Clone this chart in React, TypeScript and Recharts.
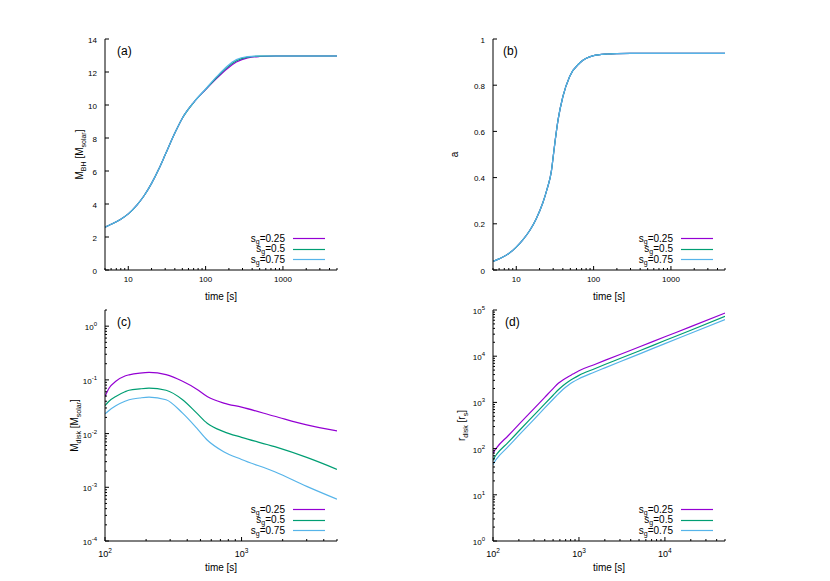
import React from 'react';
import { LineChart, Line, XAxis, YAxis, Legend } from 'recharts';

const FONT = '"Liberation Sans", Arial, Helvetica, sans-serif';

const sgValues = ['0.25', '0.5', '0.75'];
const sgColors = ['#9400d3', '#009e73', '#56b4e9'];

// (a) black hole mass [M_solar]
const bhTime = [5, 6, 8, 10, 13, 16, 20, 25, 30, 40, 50, 70, 100, 140, 190, 250, 350, 500, 800, 1500, 5000];
const bhSg025 = [2.6, 2.77, 3.08, 3.4, 3.95, 4.5, 5.25, 6.15, 6.98, 8.3, 9.2, 10.15, 10.93, 11.63, 12.2, 12.6, 12.86, 12.94, 12.97, 12.97, 12.97];
const bhSg05 = [2.6, 2.77, 3.08, 3.4, 3.95, 4.5, 5.25, 6.15, 6.98, 8.3, 9.2, 10.15, 10.95, 11.68, 12.28, 12.68, 12.9, 12.96, 12.97, 12.97, 12.97];
const bhSg075 = [2.6, 2.77, 3.08, 3.4, 3.95, 4.5, 5.25, 6.15, 6.98, 8.3, 9.2, 10.16, 10.97, 11.73, 12.35, 12.75, 12.93, 12.97, 12.97, 12.97, 12.97];

// (b) spin parameter
const spinTime = [5, 6, 8, 10, 12, 15, 18, 22, 25, 28.5, 30, 31.5, 34.7, 40, 49, 66, 100, 150, 200, 300, 5000];
const spinSg025 = [0.037, 0.048, 0.071, 0.099, 0.128, 0.172, 0.22, 0.29, 0.35, 0.43, 0.49, 0.548, 0.65, 0.75, 0.838, 0.896, 0.928, 0.935, 0.937, 0.938, 0.938];
const spinSg05 = [0.037, 0.048, 0.071, 0.099, 0.128, 0.172, 0.22, 0.29, 0.35, 0.43, 0.49, 0.548, 0.65, 0.75, 0.838, 0.896, 0.928, 0.935, 0.937, 0.938, 0.938];
const spinSg075 = [0.037, 0.048, 0.071, 0.099, 0.128, 0.172, 0.22, 0.29, 0.35, 0.43, 0.49, 0.548, 0.65, 0.75, 0.838, 0.896, 0.928, 0.935, 0.937, 0.938, 0.938];

// (c) disk mass [M_solar]
const diskTime = [100, 107, 120, 140, 150, 180, 210, 280, 370, 470, 560, 740, 1000, 1750, 3000, 5000];
const diskSg025 = [0.049, 0.07, 0.094, 0.118, 0.124, 0.134, 0.138, 0.125, 0.094, 0.067, 0.049, 0.037, 0.031, 0.021, 0.0145, 0.0112];
const diskSg05 = [0.033, 0.04, 0.049, 0.06, 0.064, 0.068, 0.07, 0.064, 0.0426, 0.024, 0.0156, 0.0109, 0.0085, 0.0057, 0.0036, 0.00216];
const diskSg075 = [0.0233, 0.027, 0.033, 0.04, 0.0426, 0.046, 0.0478, 0.0426, 0.024, 0.0126, 0.0076, 0.0046, 0.0033, 0.00195, 0.00104, 0.0006];

// (d) disk radius [r_s]
const radTime = [100, 105, 110, 150, 200, 300, 400, 500, 580, 650, 750, 850, 1000, 1500, 2000, 3000, 5000, 10000, 20000, 50000];
const radSg025 = [78, 92, 104, 190, 334, 735, 1290, 1990, 2620, 3050, 3600, 4100, 4850, 6550, 8100, 10900, 15800, 26300, 43600, 86000];
const radSg05 = [56, 66, 75, 136, 240, 530, 930, 1430, 1900, 2300, 2800, 3250, 3850, 5300, 6600, 8900, 13000, 21800, 36500, 73000];
const radSg075 = [45, 53, 60, 110, 195, 430, 760, 1170, 1550, 1900, 2350, 2750, 3250, 4500, 5600, 7600, 11100, 18700, 31300, 62000];

const linTicksBh = [0, 2, 4, 6, 8, 10, 12, 14];
const linTicksSpin = [0, 0.2, 0.4, 0.6, 0.8, 1];

const PLOT_W = 232;
const PLOT_H = 231;
const AXIS_W = 105;
const TOP = 10;
const RIGHT = 5;
const XAXIS_H = 40;

const toRows = (t: number[], a: number[], b: number[], c: number[]) =>
  t.map((v, i) => ({ t: v, s0: a[i], s1: b[i], s2: c[i] }));

// major decades plus 2..9 minor ticks inside [lo, hi]
const logTicks = (lo: number, hi: number) => {
  const out: number[] = [];
  for (let e = Math.floor(Math.log10(lo)); e <= Math.ceil(Math.log10(hi)); e++) {
    for (let m = 1; m < 10; m++) {
      const v = Number((m * Math.pow(10, e)).toPrecision(6));
      if (v >= lo * 0.999 && v <= hi * 1.001) out.push(v);
    }
  }
  return out;
};

const isDecade = (v: number) => Math.abs(Math.log10(v) - Math.round(Math.log10(v))) < 1e-6;

const makeTick = (side: string, log: boolean, mode: string) => (props: any) => {
  const { x, y, payload } = props;
  const v = Number(payload.value);
  const major = !log || isDecade(v);
  const len = major ? 4 : 2;
  let d = [x, y, x, y - len];
  if (side === 'top') d = [x, y, x, y + len];
  if (side === 'left') d = [x, y, x + len, y];
  if (side === 'right') d = [x, y, x - len, y];
  let label = null;
  if (major && mode !== 'none') {
    const pow = mode === 'pow';
    const onX = side === 'bottom';
    const body = pow ? (
      <>
        <tspan>10</tspan>
        <tspan dy={-4} fontSize={onX ? 6.5 : 6}>{Math.round(Math.log10(v))}</tspan>
      </>
    ) : (
      String(v)
    );
    const fs = pow && onX ? 9 : 8;
    if (onX) {
      label = (
        <text x={x} y={y + (pow ? 16 : 12)} textAnchor="middle" fontSize={fs} fontFamily={FONT} fill="#000">
          {body}
        </text>
      );
    } else {
      label = (
        <text x={x - 8} y={y + (pow ? 4 : 3.5)} textAnchor="end" fontSize={fs} fontFamily={FONT} fill="#000">
          {body}
        </text>
      );
    }
  }
  return (
    <g>
      <line x1={d[0]} y1={d[1]} x2={d[2]} y2={d[3]} stroke="#000" strokeWidth={1} />
      {label}
    </g>
  );
};

// key box in the lower right corner, one row per s_g value
const renderLegend = () => (
  <svg width={90} height={34} style={{ display: 'block', overflow: 'visible' }}>
    {sgValues.map((sg, i) => {
      const cy = 5 + i * 10.5;
      const ly = Math.round(cy) + 0.5;
      return (
        <g key={sg}>
          <text x={50} y={cy + 3.5} textAnchor="end" fontSize={10} fontFamily={FONT} fill="#000">
            s<tspan dy={2} fontSize={7}>g</tspan>
            <tspan dy={-2}>={sg}</tspan>
          </text>
          <line x1={58} x2={90} y1={ly} y2={ly} stroke={sgColors[i]} strokeWidth={1.2} />
        </g>
      );
    })}
  </svg>
);

interface PanelProps {
  left: number;
  top: number;
  rows: any[];
  xDomain: number[];
  xMode: string;
  yDomain: number[];
  yTicks: number[];
  yLog: boolean;
  yMode: string;
  tag: string;
  tagDx: number;
  yTitle: React.ReactNode;
  yTitleX: number;
}

const Panel = (p: PanelProps) => {
  const xTicks = logTicks(p.xDomain[0], p.xDomain[1]);
  const yScale = p.yLog ? 'log' : 'linear';
  const midY = TOP + PLOT_H / 2;
  return (
    <div style={{ position: 'absolute', left: p.left, top: p.top }}>
      <LineChart
        width={AXIS_W + PLOT_W + RIGHT}
        height={TOP + PLOT_H + XAXIS_H}
        data={p.rows}
        margin={{ top: TOP, right: RIGHT, bottom: 0, left: 0 }}
      >
        <XAxis
          dataKey="t"
          type="number"
          scale="log"
          domain={p.xDomain}
          allowDataOverflow
          ticks={xTicks}
          interval={0}
          tickLine={false}
          tickSize={0}
          tickMargin={0}
          height={XAXIS_H}
          axisLine={{ stroke: '#000' }}
          tick={makeTick('bottom', true, p.xMode)}
          label={{ value: 'time [s]', position: 'insideBottom', offset: 10, fontSize: 10, fill: '#000', fontFamily: FONT }}
        />
        <XAxis
          xAxisId="top"
          dataKey="t"
          orientation="top"
          type="number"
          scale="log"
          domain={p.xDomain}
          allowDataOverflow
          ticks={xTicks}
          interval={0}
          tickLine={false}
          tickSize={0}
          tickMargin={0}
          height={0}
          axisLine={{ stroke: '#444' }}
          tick={makeTick('top', true, 'none')}
        />
        <YAxis
          type="number"
          scale={yScale}
          domain={p.yDomain}
          allowDataOverflow
          ticks={p.yTicks}
          interval={0}
          tickLine={false}
          tickSize={0}
          tickMargin={0}
          width={AXIS_W}
          axisLine={{ stroke: '#000' }}
          tick={makeTick('left', p.yLog, p.yMode)}
        />
        <YAxis
          yAxisId="right"
          orientation="right"
          type="number"
          scale={yScale}
          domain={p.yDomain}
          allowDataOverflow
          ticks={p.yTicks}
          interval={0}
          tickLine={false}
          tickSize={0}
          tickMargin={0}
          width={0}
          axisLine={{ stroke: '#222' }}
          tick={makeTick('right', p.yLog, 'none')}
        />
        {['s0', 's1', 's2'].map((k, i) => (
          <Line
            key={k}
            dataKey={k}
            name={sgValues[i]}
            stroke={sgColors[i]}
            strokeWidth={1.2}
            dot={false}
            type="monotone"
            isAnimationActive={false}
          />
        ))}
        <Legend
          layout="vertical"
          align="center"
          verticalAlign="middle"
          wrapperStyle={{ left: 235, top: 204, width: 90, height: 34 }}
          content={renderLegend}
        />
        <text x={AXIS_W + p.tagDx} y={TOP + 16} fontSize={12} fontFamily={FONT} fill="#000">
          {p.tag}
        </text>
        <text
          x={p.yTitleX}
          y={midY}
          transform={`rotate(-90 ${p.yTitleX} ${midY})`}
          textAnchor="middle"
          fontSize={10}
          fontFamily={FONT}
          fill="#000"
        >
          {p.yTitle}
        </text>
      </LineChart>
    </div>
  );
};

export default function App() {
  return (
    <div style={{ position: 'absolute', left: 0, top: 0, width: 830, height: 581, background: '#fff', fontFamily: FONT }}>
      <Panel
        left={0}
        top={29}
        rows={toRows(bhTime, bhSg025, bhSg05, bhSg075)}
        xDomain={[5, 5000]}
        xMode="plain"
        yDomain={[0, 14]}
        yTicks={linTicksBh}
        yLog={false}
        yMode="plain"
        tag="(a)"
        tagDx={12}
        yTitleX={83}
        yTitle={
          <>
            <tspan>M</tspan>
            <tspan dy={2.5} fontSize={7}>BH</tspan>
            <tspan dy={-2.5}> [M</tspan>
            <tspan dy={2.5} fontSize={7}>solar</tspan>
            <tspan dy={-2.5}>]</tspan>
          </>
        }
      />
      <Panel
        left={388}
        top={29}
        rows={toRows(spinTime, spinSg025, spinSg05, spinSg075)}
        xDomain={[5, 5000]}
        xMode="plain"
        yDomain={[0, 1]}
        yTicks={linTicksSpin}
        yLog={false}
        yMode="plain"
        tag="(b)"
        tagDx={10}
        yTitleX={70}
        yTitle={<tspan>a</tspan>}
      />
      <Panel
        left={0}
        top={300}
        rows={toRows(diskTime, diskSg025, diskSg05, diskSg075)}
        xDomain={[100, 5000]}
        xMode="pow"
        yDomain={[1e-4, 2]}
        yTicks={logTicks(1e-4, 2)}
        yLog={true}
        yMode="pow"
        tag="(c)"
        tagDx={12}
        yTitleX={78}
        yTitle={
          <>
            <tspan>M</tspan>
            <tspan dy={2.5} fontSize={7}>disk</tspan>
            <tspan dy={-2.5}> [M</tspan>
            <tspan dy={2.5} fontSize={7}>solar</tspan>
            <tspan dy={-2.5}>]</tspan>
          </>
        }
      />
      <Panel
        left={388}
        top={300}
        rows={toRows(radTime, radSg025, radSg05, radSg075)}
        xDomain={[100, 50000]}
        xMode="pow"
        yDomain={[1, 100000]}
        yTicks={logTicks(1, 100000)}
        yLog={true}
        yMode="pow"
        tag="(d)"
        tagDx={12}
        yTitleX={77}
        yTitle={
          <>
            <tspan>r</tspan>
            <tspan dy={2.5} fontSize={7}>disk</tspan>
            <tspan dy={-2.5}> [r</tspan>
            <tspan dy={2.5} fontSize={7}>s</tspan>
            <tspan dy={-2.5}>]</tspan>
          </>
        }
      />
    </div>
  );
}
